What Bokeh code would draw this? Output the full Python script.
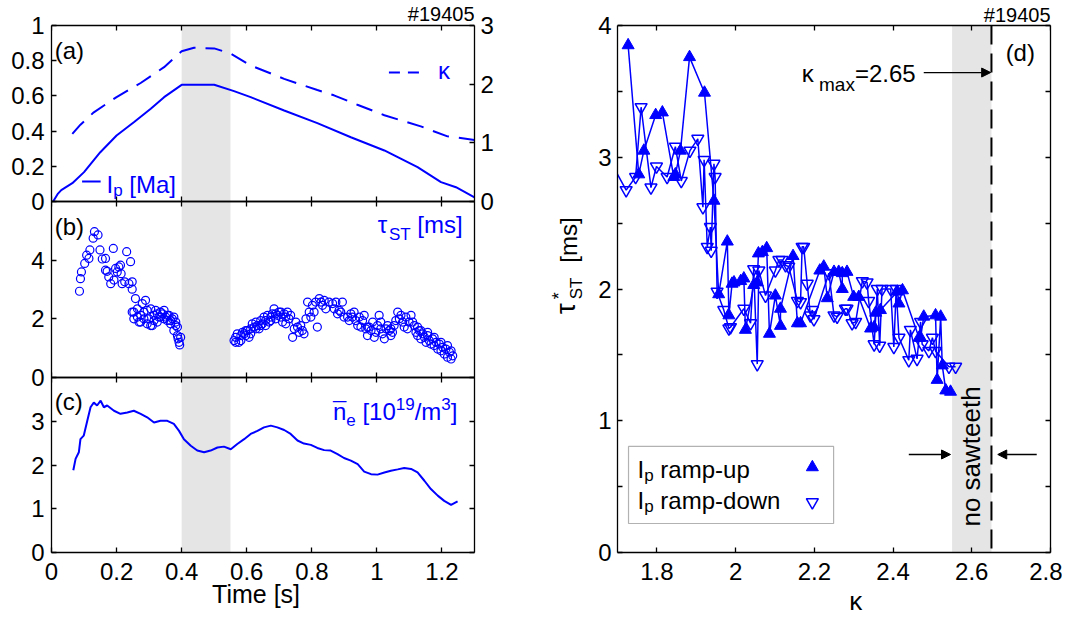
import math
from bokeh.plotting import figure
from bokeh.models import (Range1d, LinearAxis, FixedTicker, CustomJSTickFormatter,
                          BoxAnnotation, Label, Arrow, NormalHead, Grid)
from bokeh.layouts import row
from bokeh.embed import file_html
from bokeh.resources import INLINE

FONT = "Liberation Sans"
BLUE = "#0000ff"
BAND = "#e5e5e5"

# ---------------- data ----------------
SHOT = "#19405"
TIME_RANGE = (0.0, 1.3)
TIME_TICKS = [0, 0.2, 0.4, 0.6, 0.8, 1.0, 1.2]
FLAT_TOP = (0.40, 0.55)

# (a) plasma current [MA] and elongation vs time [s]
IP_TIME = [0.005, 0.02, 0.03, 0.064, 0.10, 0.15, 0.20, 0.253, 0.305, 0.346, 0.40, 0.50,
           0.561, 0.612, 0.715, 0.817, 0.92, 1.023, 1.125, 1.197, 1.243, 1.30]
IP_MA = [0.0, 0.045, 0.065, 0.104, 0.167, 0.28, 0.375, 0.45, 0.527, 0.593, 0.663, 0.663,
         0.627, 0.593, 0.517, 0.445, 0.365, 0.29, 0.195, 0.11, 0.081, 0.024]
KAPPA_TIME = [0.064, 0.089, 0.13, 0.2, 0.274, 0.346, 0.4, 0.438, 0.5, 0.551, 0.612, 0.715,
              0.817, 0.868, 0.94, 1.023, 1.135, 1.217, 1.3]
KAPPA = [1.154, 1.31, 1.52, 1.78, 2.02, 2.29, 2.56, 2.62, 2.61, 2.52, 2.32, 2.09, 1.9,
         1.81, 1.65, 1.47, 1.28, 1.11, 1.05]
IP_RANGE = (0.0, 1.0)
KAPPA_RANGE_A = (0.0, 3.0)
IP_TICKS = [0, 0.2, 0.4, 0.6, 0.8, 1.0]
KAPPA_TICKS_A = [0, 1, 2, 3]

# (b) sawtooth period [ms] vs time [s]
TAU_ST_PTS = [
    (0.086, 2.94), (0.089, 3.37), (0.092, 3.60), (0.102, 3.89), (0.108, 4.17), (0.115, 4.06),
    (0.118, 4.35), (0.128, 4.75), (0.132, 4.97), (0.143, 4.86), (0.149, 4.35), (0.156, 4.04),
    (0.166, 4.06), (0.166, 3.66), (0.171, 3.62), (0.176, 3.43), (0.182, 3.20), (0.190, 4.40),
    (0.192, 3.32), (0.197, 3.72), (0.202, 3.60), (0.207, 3.77), (0.212, 3.83), (0.214, 3.54),
    (0.217, 3.20), (0.225, 3.26), (0.231, 4.29), (0.238, 3.20), (0.243, 3.95), (0.248, 3.26),
    (0.248, 3.01), (0.258, 2.69), (0.248, 2.23), (0.253, 2.00), (0.264, 2.34), (0.269, 1.89),
    (0.274, 2.12), (0.279, 2.52), (0.284, 2.23), (0.289, 2.63), (0.294, 1.83), (0.299, 2.00),
    (0.305, 2.34), (0.310, 1.77), (0.315, 2.12), (0.320, 2.29), (0.325, 1.89), (0.330, 2.06),
    (0.335, 2.23), (0.341, 2.17), (0.346, 2.00), (0.351, 2.06), (0.356, 1.94), (0.361, 2.12),
    (0.366, 1.83), (0.371, 2.00), (0.376, 1.60), (0.382, 1.77), (0.387, 1.43), (0.389, 1.32),
    (0.392, 1.20), (0.394, 1.11), (0.397, 1.37), (0.253, 2.23), (0.264, 2.06), (0.274, 1.89),
    (0.284, 2.00), (0.294, 2.29), (0.305, 1.77), (0.315, 1.94), (0.325, 2.17), (0.335, 2.06),
    (0.346, 2.29), (0.356, 2.12), (0.366, 1.94), (0.376, 2.06), (0.382, 1.89), (0.387, 1.72),
    (0.561, 1.26), (0.566, 1.37), (0.571, 1.49), (0.576, 1.20), (0.582, 1.43), (0.587, 1.54),
    (0.592, 1.49), (0.597, 1.43), (0.602, 1.60), (0.607, 1.37), (0.612, 1.66), (0.617, 1.83),
    (0.623, 1.72), (0.628, 1.89), (0.633, 1.77), (0.638, 1.66), (0.643, 1.94), (0.648, 1.83),
    (0.653, 2.06), (0.658, 1.94), (0.664, 2.12), (0.669, 1.89), (0.674, 2.06), (0.679, 2.17),
    (0.684, 2.34), (0.689, 2.00), (0.694, 2.12), (0.699, 2.23), (0.705, 2.06), (0.710, 1.89),
    (0.715, 2.17), (0.720, 2.06), (0.725, 2.23), (0.730, 2.00), (0.735, 2.12), (0.741, 1.37),
    (0.746, 1.66), (0.751, 1.89), (0.756, 1.72), (0.761, 1.54), (0.766, 1.77), (0.771, 1.60),
    (0.776, 1.49), (0.782, 2.00), (0.787, 2.57), (0.792, 2.23), (0.797, 2.06), (0.802, 2.46),
    (0.807, 2.23), (0.812, 2.57), (0.817, 1.72), (0.823, 2.69), (0.828, 2.57), (0.833, 2.46),
    (0.838, 2.63), (0.843, 2.34), (0.853, 2.57), (0.864, 2.52), (0.874, 2.57), (0.884, 2.29),
    (0.889, 2.23), (0.894, 2.57), (0.899, 2.06), (0.910, 2.06), (0.920, 2.17), (0.930, 2.23),
    (0.935, 1.94), (0.941, 1.77), (0.946, 2.06), (0.951, 1.72), (0.956, 1.94), (0.961, 2.12),
    (0.966, 1.66), (0.971, 1.43), (0.976, 1.72), (0.982, 1.60), (0.987, 1.89), (0.992, 1.37),
    (0.997, 1.54), (1.002, 1.77), (1.007, 2.12), (1.012, 1.66), (1.017, 1.49), (1.023, 1.32),
    (1.028, 1.66), (1.033, 1.77), (1.038, 1.60), (1.043, 1.43), (1.048, 1.54), (1.053, 1.77),
    (1.058, 1.94), (1.064, 2.23), (1.069, 2.00), (1.074, 2.12), (1.079, 1.89), (1.084, 1.72),
    (1.089, 2.06), (1.094, 1.66), (1.099, 1.89), (1.105, 2.12), (1.115, 1.77), (1.120, 1.54),
    (1.125, 1.43), (1.130, 1.60), (1.135, 1.32), (1.141, 1.49), (1.146, 1.37), (1.151, 1.20),
    (1.156, 1.43), (1.161, 1.26), (1.166, 1.14), (1.171, 1.32), (1.176, 1.09), (1.182, 1.20),
    (1.187, 0.97), (1.192, 1.14), (1.197, 0.91), (1.202, 1.03), (1.207, 0.80), (1.212, 0.97),
    (1.217, 0.69), (1.223, 0.86), (1.228, 0.63), (1.233, 0.74), (0.566, 1.20), (0.582, 1.26),
    (0.597, 1.60), (0.612, 1.49), (0.628, 1.66), (0.643, 1.77), (0.658, 1.77), (0.674, 1.94),
    (0.689, 2.17), (0.705, 2.23), (0.720, 1.83), (0.869, 2.34), (0.879, 2.17), (0.915, 1.94),
    (0.925, 2.06), (0.971, 1.72), (1.012, 1.89), (1.043, 1.66), (1.110, 1.89), (1.125, 1.72),
    (1.135, 1.60), (1.156, 1.54), (1.176, 1.37), (1.197, 1.20), (1.217, 1.09), (1.228, 0.91),
]
TAU_RANGE_B = (0.0, 6.0)
TAU_TICKS_B = [0, 2, 4]

# (c) line-averaged density [1e19 m^-3] vs time [s]
NE_PTS = [
    (0.067, 1.88), (0.074, 2.14), (0.084, 2.29), (0.089, 2.59), (0.099, 2.67), (0.110, 3.01),
    (0.120, 3.32), (0.130, 3.43), (0.140, 3.36), (0.151, 3.47), (0.161, 3.32), (0.171, 3.36),
    (0.192, 3.24), (0.212, 3.17), (0.233, 3.20), (0.253, 3.24), (0.274, 3.17), (0.294, 3.09),
    (0.315, 2.97), (0.335, 3.01), (0.356, 3.01), (0.376, 2.94), (0.392, 2.78), (0.407, 2.59),
    (0.428, 2.44), (0.448, 2.33), (0.469, 2.29), (0.489, 2.33), (0.510, 2.40), (0.530, 2.42),
    (0.551, 2.36), (0.571, 2.48), (0.592, 2.59), (0.612, 2.71), (0.633, 2.78), (0.653, 2.86),
    (0.674, 2.90), (0.694, 2.86), (0.715, 2.80), (0.735, 2.71), (0.756, 2.56), (0.776, 2.49),
    (0.797, 2.46), (0.817, 2.39), (0.838, 2.34), (0.858, 2.33), (0.879, 2.25), (0.899, 2.16),
    (0.920, 2.10), (0.941, 2.02), (0.961, 1.85), (0.982, 1.79), (1.002, 1.78), (1.023, 1.83),
    (1.043, 1.87), (1.064, 1.90), (1.084, 1.93), (1.105, 1.91), (1.125, 1.83), (1.146, 1.64),
    (1.166, 1.45), (1.187, 1.30), (1.207, 1.18), (1.228, 1.09), (1.248, 1.17),
]
NE_RANGE = (0.0, 4.0)
NE_TICKS = [0, 1, 2, 3]

# (d) normalised sawtooth period vs elongation
RAMP_UP = [
    (1.727, 3.85), (1.754, 2.87), (1.767, 3.05), (1.797, 3.32), (1.814, 3.34), (1.843, 2.85),
    (1.847, 2.87), (1.860, 3.05), (1.883, 3.76), (1.921, 3.49), (1.945, 2.67), (1.957, 1.96),
    (1.979, 2.36), (1.983, 1.80), (1.991, 2.04), (1.996, 2.05), (2.013, 2.06), (2.021, 2.08),
    (2.025, 1.69), (2.046, 2.03), (2.055, 2.05), (2.058, 2.27), (2.068, 2.28), (2.079, 2.31),
    (2.086, 1.66), (2.101, 1.95), (2.114, 1.72), (2.114, 1.85), (2.146, 2.25), (2.157, 1.74),
    (2.165, 1.74), (2.214, 2.14), (2.224, 2.17), (2.233, 1.93), (2.250, 2.13), (2.262, 2.13),
    (2.271, 2.00), (2.271, 2.12), (2.283, 2.13), (2.300, 1.94), (2.313, 1.94), (2.343, 1.70),
    (2.352, 1.71), (2.356, 1.82), (2.368, 1.84), (2.411, 1.98), (2.415, 1.89), (2.424, 1.99),
    (2.466, 1.63), (2.470, 1.63), (2.478, 1.79), (2.508, 1.80), (2.512, 1.31), (2.521, 1.79),
    (2.525, 1.42), (2.534, 1.23), (2.546, 1.22),
]
RAMP_DOWN = [
    (1.680, 2.98), (1.722, 2.75), (1.746, 2.85), (1.760, 3.38), (1.785, 2.77), (1.799, 2.93),
    (1.826, 2.85), (1.847, 3.08), (1.862, 2.82), (1.884, 3.05), (1.904, 3.14), (1.917, 2.62),
    (1.920, 2.98), (1.928, 2.32), (1.936, 2.47), (1.938, 2.29), (1.945, 2.95), (1.948, 2.85),
    (1.953, 1.98), (1.970, 1.84), (1.983, 1.70), (1.987, 1.71), (2.021, 1.85), (2.038, 1.74),
    (2.046, 2.15), (2.055, 1.43), (2.059, 2.14), (2.076, 1.95), (2.101, 2.14), (2.110, 2.22),
    (2.118, 2.22), (2.127, 2.18), (2.135, 2.17), (2.157, 1.91), (2.165, 1.90), (2.169, 2.32),
    (2.173, 2.32), (2.182, 2.04), (2.190, 1.80), (2.195, 1.84), (2.199, 1.77), (2.237, 2.12),
    (2.250, 1.80), (2.258, 1.79), (2.279, 1.85), (2.283, 1.85), (2.296, 1.74), (2.305, 1.75),
    (2.322, 2.06), (2.334, 2.05), (2.338, 1.91), (2.352, 1.58), (2.360, 2.00), (2.366, 1.57),
    (2.372, 2.00), (2.394, 2.00), (2.402, 1.56), (2.408, 2.00), (2.415, 1.63), (2.440, 1.46),
    (2.444, 1.69), (2.461, 1.47), (2.470, 1.75), (2.474, 1.58), (2.491, 1.53), (2.500, 1.63),
    (2.508, 1.53), (2.542, 1.41), (2.559, 1.41),
]
KAPPA_RANGE_D = (1.7, 2.8)
TAU_RANGE_D = (0.0, 4.0)
KAPPA_TICKS_D = [1.8, 2.0, 2.2, 2.4, 2.6, 2.8]
TAU_TICKS_D = [0, 0.5, 1, 1.5, 2, 2.5, 3, 3.5, 4]
KAPPA_MAX = 2.65
NO_SAWTEETH = (2.55, 2.65)

# ---------------- helpers ----------------
W = {" ": .278, "#": .556, "(": .333, ")": .333, "*": .389, "-": .333, ".": .278,
     "/": .278, "=": .584, "[": .278, "]": .278, "I": .278, "M": .833, "S": .667,
     "T": .611, "a": .556, "d": .556, "e": .556, "h": .556, "m": .833, "n": .556,
     "o": .556, "p": .556, "r": .333, "s": .5, "t": .278, "u": .556, "w": .722, "x": .5,
     "\u03c4": .46, "\u03ba": .5, "\u00af": .552}
NBSP = "\u00a0"
BASELINE_FIX = 0.35   # renderer puts the alphabetic baseline ~0.35 em too low


def text_width(s, size):
    return size * sum(W.get(c, 0.556) for c in s)


def _label(p, x, y, txt, size, color, align, yr, angle, xo=0.0, yo=0.0):
    fix = BASELINE_FIX * size
    if angle == 0.0:
        yo += fix
    else:
        xo -= fix
    p.add_layout(Label(x=x, y=y, y_range_name=yr, text=txt, x_offset=xo, y_offset=yo,
                       angle=angle, text_font=FONT, text_font_size=f"{size}px",
                       text_color=color, text_align=align, text_baseline="alphabetic"))


def plain(p, x, y, txt, size=24, color="black", align="left", yr="default", angle=0.0):
    _label(p, x, y, txt, size, color, align, yr, angle)


def rich(p, x, y, parts, color, yr="default", angle=0.0):
    """Pieces of text with sub/superscripts: (text, size_px, baseline_shift_px[, advance])."""
    adv = 0.0
    for part in parts:
        txt, size, dy = part[0], part[1], part[2]
        lead = len(txt) - len(txt.lstrip(" "))
        adv += text_width(" " * lead, size)
        txt = txt.lstrip(" ")
        step = part[3] if len(part) > 3 else text_width(txt, size)
        if angle == 0.0:
            xo, yo = adv, dy
        else:
            xo, yo = -dy, adv
        _label(p, x, y, txt, size, color, "left", yr, angle, xo, yo)
        adv += step


NUM_FMT = "return String(Number(tick.toFixed(3)));"
INT_FMT = "return Math.abs(tick - Math.round(tick)) < 1e-6 ? String(Math.round(tick)) : '';"
LOOKUP_FMT = ("for (let i = 0; i < pos.length; i++) {"
              " if (Math.abs(pos[i] - tick) < 1e-9) return lab[i]; } return '';")


def style_axis(ax, ticks, labels=True, standoff=7, formatter=None):
    ax.ticker = FixedTicker(ticks=ticks)
    if formatter is None:
        formatter = CustomJSTickFormatter(code=NUM_FMT if labels else "return '';")
    ax.formatter = formatter
    ax.major_tick_in = 5
    ax.major_tick_out = 0
    ax.minor_tick_in = 0
    ax.minor_tick_out = 0
    ax.minor_tick_line_color = None
    ax.axis_line_color = "black"
    ax.axis_line_width = 1.3
    ax.major_tick_line_color = "black"
    ax.major_tick_line_width = 1.3
    ax.major_label_text_font = FONT
    ax.major_label_text_color = "black"
    ax.major_label_text_font_size = "24px" if labels else "0px"
    ax.major_label_standoff = standoff if labels else 0
    ax.axis_label_text_font = FONT
    ax.axis_label_text_font_style = "normal"
    ax.axis_label_text_color = "black"
    return ax


def add_axis(p, place, ticks, labels=True, standoff=7, formatter=None, **kw):
    ax = style_axis(LinearAxis(**kw), ticks, labels, standoff, formatter)
    p.add_layout(ax, place)
    return ax


def base_fig(w, h, xr, yr, bl, br, bt, bb):
    p = figure(width=w, height=h, x_range=xr, y_range=yr, x_axis_location=None,
               y_axis_location=None, output_backend="svg", toolbar_location=None,
               min_border_left=bl, min_border_right=br, min_border_top=bt,
               min_border_bottom=bb)
    for g in p.select(type=Grid):
        g.visible = False
    p.outline_line_color = None
    p.background_fill_color = "white"
    p.border_fill_color = "white"
    return p


# Frames run from the canvas top (so the shot number sits inside them) down to the
# x axis; the drawn box starts 25 px below the top.  Heights as fractions of 552 px.
FRAME_PX = 552
TOP = 527 / FRAME_PX
A_FRAC = (351 / FRAME_PX, TOP)
B_FRAC = (175 / FRAME_PX, 351 / FRAME_PX)
C_FRAC = (0.0, 175 / FRAME_PX)
D_FRAC = (0.0, TOP)


def stacked(lo, hi, frac):
    f0, f1 = frac
    upp = (hi - lo) / (f1 - f0)
    return Range1d(lo - f0 * upp, hi + (1.0 - f1) * upp)


def frac_of(v, rng, frac):
    lo, hi = rng
    return frac[0] + (v - lo) / (hi - lo) * (frac[1] - frac[0])


def label_of(v):
    return "%g" % v


# ---------------- left column: (a), (b), (c) ----------------
pl = base_fig(534, 621, Range1d(*TIME_RANGE), Range1d(0, 1), 51, 60, 0, 69)
pl.extra_y_ranges = {"a": stacked(*IP_RANGE, A_FRAC), "k": stacked(*KAPPA_RANGE_A, A_FRAC),
                     "b": stacked(*TAU_RANGE_B, B_FRAC), "c": stacked(*NE_RANGE, C_FRAC)}
t0, t1 = TIME_RANGE

pl.add_layout(BoxAnnotation(left=FLAT_TOP[0], right=FLAT_TOP[1], bottom=0, top=TOP,
                            fill_color=BAND, fill_alpha=1.0, line_color=None,
                            level="underlay"))

bottom = add_axis(pl, "below", TIME_TICKS, True, 10)
bottom.axis_label = "Time [s]" + NBSP * 2
bottom.axis_label_text_font_size = "25px"
bottom.axis_label_standoff = -3
add_axis(pl, "above", TIME_TICKS, False, fixed_location=TOP)

left_pos, left_lab = [], []
for ticks, rng, frac in ((IP_TICKS, IP_RANGE, A_FRAC), (TAU_TICKS_B, TAU_RANGE_B, B_FRAC),
                         (NE_TICKS, NE_RANGE, C_FRAC)):
    for v in ticks:
        left_pos.append(frac_of(v, rng, frac))
        left_lab.append(label_of(v))
right_pos, right_lab = [], []
for v in KAPPA_TICKS_A:
    right_pos.append(frac_of(v, KAPPA_RANGE_A, A_FRAC))
    right_lab.append(label_of(v))
for ticks, rng, frac in ((TAU_TICKS_B, TAU_RANGE_B, B_FRAC), (NE_TICKS, NE_RANGE, C_FRAC)):
    for v in ticks:
        right_pos.append(frac_of(v, rng, frac))
        right_lab.append("")

la = add_axis(pl, "left", left_pos, True, 7,
              formatter=CustomJSTickFormatter(args=dict(pos=left_pos, lab=left_lab),
                                              code=LOOKUP_FMT))
la.bounds = (0, TOP)
ra = add_axis(pl, "right", right_pos, True, 6,
              formatter=CustomJSTickFormatter(args=dict(pos=right_pos, lab=right_lab),
                                              code=LOOKUP_FMT))
ra.bounds = (0, TOP)
# internal panel boundaries: ticks pointing into each neighbouring panel
for edge in (A_FRAC[0], B_FRAC[0]):
    add_axis(pl, "below", TIME_TICKS, False, fixed_location=edge)
    add_axis(pl, "above", TIME_TICKS, False, fixed_location=edge)

# (a)
pl.line(IP_TIME, IP_MA, y_range_name="a", line_color=BLUE, line_width=2)
pl.line(KAPPA_TIME, KAPPA, y_range_name="k", line_color=BLUE, line_width=2,
        line_dash="17 10")
pl.segment(x0=[0.094], y0=[0.114], x1=[0.151], y1=[0.114], y_range_name="a",
           line_color=BLUE, line_width=2)
pl.segment(x0=[1.037], y0=[0.733], x1=[1.135], y1=[0.733], y_range_name="a",
           line_color=BLUE, line_width=2, line_dash="11 8")
rich(pl, 0.169, 0.051, [("I", 24, 0), ("p", 17, -4), (" [Ma]", 24, 0)], BLUE, yr="a")
plain(pl, 1.188, 0.699, "\u03ba", 24, BLUE, yr="a")
plain(pl, 0.010, 0.8125, "(a)", 24, yr="a")
plain(pl, t1, 1.0244, SHOT, 20, align="right", yr="a")

# (b)
tb, taub = zip(*TAU_ST_PTS)
pl.scatter(list(tb), list(taub), y_range_name="b", marker="circle", size=8,
           fill_color=None, line_color=BLUE, line_width=1.2)
plain(pl, 0.010, 4.875, "(b)", 24, yr="b")
rich(pl, 1.003, 4.94, [("\u03c4", 24, 0), ("ST", 17, -8), (" [ms]", 24, 0)], BLUE, yr="b")

# (c)
tn, ne = zip(*NE_PTS)
pl.line(list(tn), list(ne), y_range_name="c", line_color=BLUE, line_width=2)
plain(pl, 0.010, 3.27, "(c)", 24, yr="c")
rich(pl, 0.865, 3.04, [("\u00af", 24, 1, 0), ("n", 24, 0), ("e", 17, -6), (" [10", 24, 0),
                       ("19", 17, 10), ("/m", 24, 0), ("3", 17, 10), ("]", 24, 0)],
     BLUE, yr="c")

# ---------------- y-axis title strip for (d) ----------------
py = figure(width=56, height=621, x_range=Range1d(0, 1), y_range=Range1d(0, 1),
            x_axis_location=None, y_axis_location=None, output_backend="svg",
            toolbar_location=None, min_border=0)
for g in py.select(type=Grid):
    g.visible = False
py.outline_line_color = None
py.border_fill_color = "white"
py.background_fill_color = "white"
rich(py, 0.732, 0.4316, [("\u03c4", 28, 0, 15), ("*", 18, 10, 0), ("ST", 17, -7)], "black",
     angle=math.pi / 2)
rich(py, 0.75, 0.525, [("[ms]", 24, 0)], "black", angle=math.pi / 2)

# ---------------- right panel: (d) ----------------
pd = base_fig(472, 621, Range1d(*KAPPA_RANGE_D), stacked(*TAU_RANGE_D, D_FRAC),
              27, 12, 0, 69)
tau_lo, tau_hi = TAU_RANGE_D
pd.add_layout(BoxAnnotation(left=NO_SAWTEETH[0], right=NO_SAWTEETH[1], bottom=tau_lo,
                            top=tau_hi, fill_color=BAND, fill_alpha=1.0, line_color=None,
                            level="underlay"))
kb = add_axis(pd, "below", KAPPA_TICKS_D, True, 10)
kb.axis_label = NBSP * 6 + "\u03ba"
kb.axis_label_text_font_size = "26px"
kb.axis_label_standoff = 3
add_axis(pd, "above", KAPPA_TICKS_D, False, fixed_location=tau_hi)
dl = add_axis(pd, "left", TAU_TICKS_D, True, 6, formatter=CustomJSTickFormatter(code=INT_FMT))
dl.bounds = (tau_lo, tau_hi)
dr = add_axis(pd, "right", TAU_TICKS_D, False)
dr.bounds = (tau_lo, tau_hi)

ku, tu = zip(*RAMP_UP)
kd, td = zip(*RAMP_DOWN)
pd.line(list(kd), list(td), line_color=BLUE, line_width=1.5)
pd.line(list(ku), list(tu), line_color=BLUE, line_width=1.5)
pd.scatter(list(kd), list(td), marker="inverted_triangle", size=12, fill_color=None,
           line_color=BLUE, line_width=1.5)
pd.scatter(list(ku), list(tu), marker="triangle", size=12, fill_color=BLUE,
           line_color=BLUE, line_width=1)

# kappa_max: dashed boundary of the sawtooth-free region
pd.segment(x0=[KAPPA_MAX], y0=[tau_hi], x1=[KAPPA_MAX], y1=[tau_lo], line_color="black",
           line_width=2, line_dash="19 9")
rich(pd, 2.168, 3.575, [("\u03ba", 24, 0), (" max", 19, -10), ("=2.65", 24, 0)], "black")
pd.add_layout(Arrow(end=NormalHead(size=9, fill_color="black", line_color="black"),
                    x_start=2.478, y_start=3.643, x_end=KAPPA_MAX - 0.002, y_end=3.643,
                    line_color="black", line_width=1.3))
# no sawteeth (rotated, reads upwards, centred in the band)
rich(pd, 2.620, 0.197, [("no sawteeth", 26, 0)], "black", angle=math.pi / 2)
pd.add_layout(Arrow(end=NormalHead(size=9, fill_color="black", line_color="black"),
                    x_start=2.440, y_start=0.744, x_end=2.546, y_end=0.744,
                    line_color="black", line_width=1.3))
pd.add_layout(Arrow(end=NormalHead(size=9, fill_color="black", line_color="black"),
                    x_start=2.765, y_start=0.744, x_end=2.666, y_end=0.744,
                    line_color="black", line_width=1.3))
plain(pd, 2.686, 3.73, "(d)", 24)
plain(pd, 2.8, 4.027, SHOT, 20, align="right")

# legend
pd.add_layout(BoxAnnotation(left=1.728, right=2.249, bottom=0.22, top=0.805,
                            fill_color="white", fill_alpha=1.0, line_color="black",
                            line_width=1.2, level="underlay"))
rich(pd, 1.751, 0.569, [("I", 24, 0), ("p", 17, -4), (" ramp-up", 24, 0)], "black")
rich(pd, 1.751, 0.334, [("I", 24, 0), ("p", 17, -4), (" ramp-down", 24, 0)], "black")
pd.scatter([2.195], [0.647], marker="triangle", size=12, fill_color=BLUE, line_color=BLUE)
pd.scatter([2.195], [0.382], marker="inverted_triangle", size=12, fill_color=None,
           line_color=BLUE, line_width=1.5)

layout = row(pl, py, pd)
open("out.html", "w").write(file_html(layout, INLINE))
